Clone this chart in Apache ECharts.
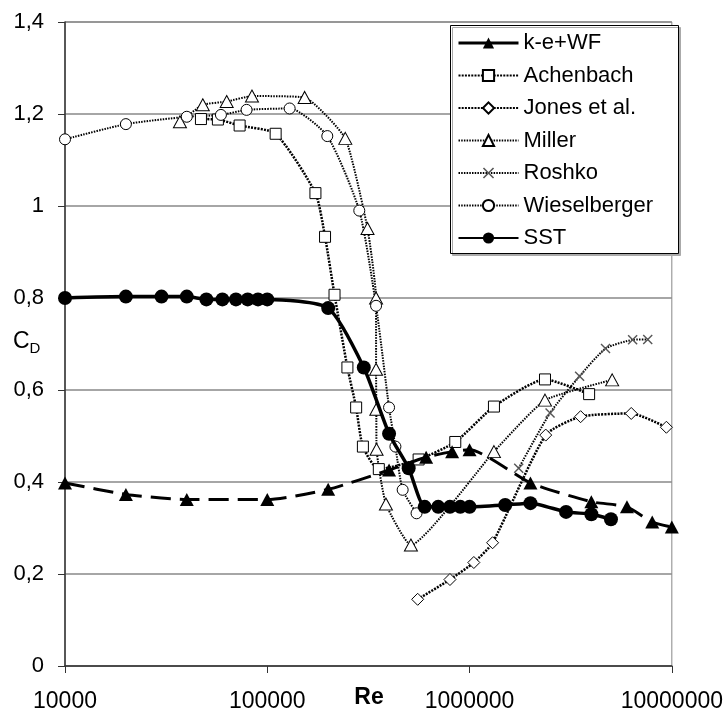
<!DOCTYPE html>
<html>
<head>
<meta charset="utf-8">
<script src="https://cdn.jsdelivr.net/npm/echarts@6/dist/echarts.min.js"></script>
<style>
html,body{margin:0;padding:0;background:#fff;}
#c{width:726px;height:715px;}
</style>
</head>
<body>
<div id="c"></div>
<script>
// ---- data ----
var seriesNames = ['k-e+WF','Achenbach','Jones et al.','Miller','Roshko','Wieselberger','SST'];
var xTicks = [10000, 100000, 1000000, 10000000];
var yTicks = [0, 0.2, 0.4, 0.6, 0.8, 1, 1.2, 1.4];

var keRe = [1e4, 2e4, 4e4, 1e5, 2e5, 4e5, 6.1e5, 8.2e5, 1e6, 2e6, 4e6, 6e6, 8e6, 1e7];
var keCd = [0.398, 0.373, 0.362, 0.362, 0.384, 0.426, 0.454, 0.466, 0.47, 0.398, 0.357, 0.346, 0.313, 0.302];

var achRe = [4.7e4, 5.7e4, 7.3e4, 1.1e5, 1.73e5, 1.93e5, 2.15e5, 2.49e5, 2.75e5, 2.97e5, 3.56e5, 5.6e5, 8.5e5, 1.32e6, 2.36e6, 3.9e6];
var achCd = [1.189, 1.188, 1.175, 1.157, 1.028, 0.933, 0.807, 0.649, 0.562, 0.477, 0.428, 0.449, 0.487, 0.564, 0.623, 0.591];

var jonRe = [5.54e5, 8.0e5, 1.05e6, 1.3e6, 2.38e6, 3.54e6, 6.3e6, 9.4e6];
var jonCd = [0.145, 0.188, 0.225, 0.268, 0.502, 0.542, 0.549, 0.519];

var milRe = [3.7e4, 4.8e4, 6.3e4, 8.4e4, 1.53e5, 2.43e5, 3.13e5, 3.45e5, 3.45e5, 3.46e5, 3.47e5, 3.86e5, 5.13e5, 1.32e6, 2.36e6, 5.07e6];
var milCd = [1.183, 1.22, 1.227, 1.239, 1.236, 1.147, 0.951, 0.80, 0.645, 0.558, 0.471, 0.352, 0.263, 0.466, 0.578, 0.622];

var rosRe = [1.75e6, 2.5e6, 3.5e6, 4.7e6, 6.4e6, 7.6e6];
var rosCd = [0.43, 0.55, 0.63, 0.69, 0.709, 0.71];

var wieRe = [1e4, 2e4, 4e4, 5.9e4, 7.9e4, 1.29e5, 1.98e5, 2.85e5, 3.45e5, 4e5, 4.3e5, 4.67e5, 5.47e5];
var wieCd = [1.145, 1.178, 1.194, 1.198, 1.209, 1.212, 1.152, 0.99, 0.783, 0.562, 0.477, 0.383, 0.332];

var sstRe = [1e4, 2e4, 3e4, 4e4, 5e4, 6e4, 7e4, 8e4, 9e4, 1e5, 2e5, 3e5, 4e5, 5e5, 6e5, 7e5, 8e5, 9e5, 1e6, 1.5e6, 2e6, 3e6, 4e6, 5e6];
var sstCd = [0.80, 0.803, 0.803, 0.803, 0.797, 0.797, 0.797, 0.797, 0.797, 0.797, 0.778, 0.649, 0.505, 0.43, 0.346, 0.346, 0.346, 0.346, 0.346, 0.35, 0.354, 0.335, 0.33, 0.319];

// ---- build ----
function zip(a, b){ return a.map(function(v,i){ return [v, b[i]]; }); }
var FONT = '"Liberation Sans", Arial, sans-serif';
var openItem = {color:'#fff', borderColor:'#000', borderWidth:1};
var crossPath = 'path://M0,1L1,0L5,4L9,0L10,1L6,5L10,9L9,10L5,6L1,10L0,9L4,5Z';

var series = [
  {name:seriesNames[0], type:'line', data:zip(keRe,keCd), smooth:0.2,
   symbol:'triangle', symbolSize:[14,13],
   lineStyle:{color:'#000', width:3, type:[20,9]}, itemStyle:{color:'#000'}, z:3},
  {name:seriesNames[1], type:'line', data:zip(achRe,achCd), smooth:0.2,
   symbol:'rect', symbolSize:11,
   lineStyle:{color:'#000', width:2.5, type:[2,1.2]}, itemStyle:openItem, z:2},
  {name:seriesNames[2], type:'line', data:zip(jonRe,jonCd), smooth:0.2,
   symbol:'diamond', symbolSize:[12,12],
   lineStyle:{color:'#000', width:2.5, type:[2,1.2]}, itemStyle:openItem, z:2},
  {name:seriesNames[3], type:'line', data:zip(milRe,milCd), smooth:0.15,
   symbol:'triangle', symbolSize:[13,12],
   lineStyle:{color:'#000', width:2, type:[1.5,1.2]}, itemStyle:openItem, z:2},
  {name:seriesNames[4], type:'line', data:zip(rosRe,rosCd), smooth:0.2,
   symbol:crossPath, symbolSize:10,
   lineStyle:{color:'#000', width:2, type:[1.5,1.2]}, itemStyle:{color:'#555', borderWidth:0}, z:2},
  {name:seriesNames[5], type:'line', data:zip(wieRe,wieCd), smooth:0.2,
   symbol:'circle', symbolSize:11,
   lineStyle:{color:'#000', width:2, type:[1.5,1.2]}, itemStyle:openItem, z:2},
  {name:seriesNames[6], type:'line', data:zip(sstRe,sstCd), smooth:0.2,
   symbol:'circle', symbolSize:14,
   lineStyle:{color:'#000', width:3.5}, itemStyle:{color:'#000'}, z:4}
];

var legendData = seriesNames.map(function(n, i){
  return i === 0 ? {name:n, lineStyle:{type:'solid', width:3, color:'#000'}} : {name:n};
});

var chart = echarts.init(document.getElementById('c'), null, {renderer:'canvas'});
chart.setOption({
  animation:false,
  backgroundColor:'#fff',
  grid:{left:65, right:53, top:22, bottom:49, show:true, borderColor:'#888', borderWidth:1},
  xAxis:{
    type:'log', logBase:10, min:xTicks[0], max:xTicks[xTicks.length-1],
    axisLine:{show:true, lineStyle:{color:'#333', width:1.5}},
    axisTick:{show:true, length:7, inside:false, lineStyle:{color:'#333', width:1}},
    minorTick:{show:false},
    splitLine:{show:false},
    axisLabel:{margin:24, fontSize:23, color:'#000', fontFamily:FONT,
      formatter:function(v){ return String(Math.round(v)); }}
  },
  yAxis:{
    type:'value', min:yTicks[0], max:yTicks[yTicks.length-1], interval:0.2,
    axisLine:{show:true, lineStyle:{color:'#333', width:1.5}},
    axisTick:{show:true, length:7, inside:false, lineStyle:{color:'#333', width:1}},
    splitLine:{show:true, lineStyle:{color:'#888', width:1.5}},
    axisLabel:{margin:21, fontSize:22, color:'#000', fontFamily:FONT,
      formatter:function(v){ return String(Math.round(v*10)/10).replace('.', ','); }}
  },
  legend:{
    show:true, orient:'vertical', left:457, top:32,
    itemWidth:60, itemHeight:14, itemGap:10.5, padding:0,
    data:legendData,
    textStyle:{fontSize:22, color:'#000', fontFamily:FONT, lineHeight:22},
    z:10
  },
  graphic:[
    {type:'rect', left:450, top:25, z:5,
     shape:{width:228, height:228},
     style:{fill:'#fff', stroke:'#000', lineWidth:1, shadowColor:'#aaa', shadowOffsetX:2, shadowOffsetY:2, shadowBlur:0}},
    {type:'text', left:13, top:330, z:5,
     style:{text:'{c|C}{d|D}', rich:{c:{fontSize:23, fontFamily:FONT, fill:'#000'}, d:{fontSize:15, fontFamily:FONT, fill:'#000', padding:[14,0,0,0]}}}},
    {type:'text', x:369, y:698, z:5,
     style:{text:'Re', fontSize:23, fontWeight:'bold', fontFamily:FONT, fill:'#000', align:'center', verticalAlign:'middle'}}
  ],
  series:series
});
</script>
</body>
</html>
